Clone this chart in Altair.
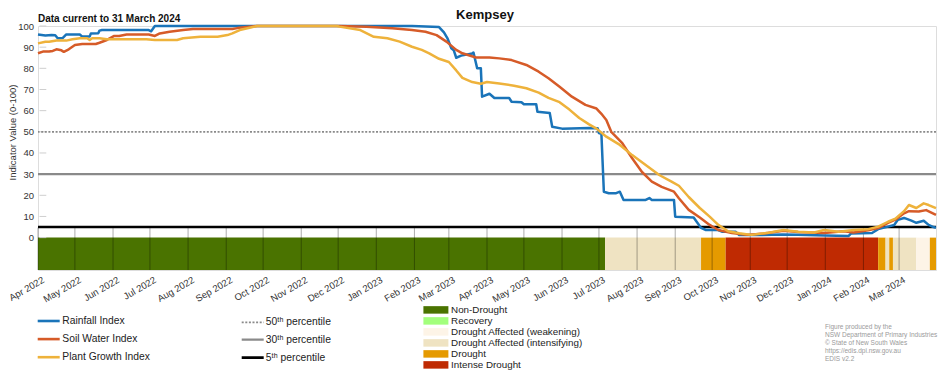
import altair as alt
import pandas as pd

FONT = "Liberation Sans"

# ---------------- index series ----------------
rain_dates = ["2022-04-01","2022-04-07","2022-04-12","2022-04-15","2022-04-17","2022-04-21","2022-04-24","2022-05-05",
              "2022-05-07","2022-05-13","2022-05-14","2022-05-20","2022-05-21","2022-05-23","2022-06-30","2022-07-02",
              "2022-07-05","2023-01-30","2023-02-21","2023-02-25","2023-02-28","2023-03-03","2023-03-05","2023-03-07",
              "2023-03-11","2023-03-20","2023-03-21","2023-03-24","2023-03-27","2023-03-28","2023-04-03","2023-04-07",
              "2023-04-19","2023-04-21","2023-04-29","2023-05-01","2023-05-11","2023-05-12","2023-05-22","2023-05-24",
              "2023-06-01","2023-06-23","2023-06-30","2023-07-01","2023-07-03","2023-07-05","2023-07-09","2023-07-15",
              "2023-07-18","2023-07-21","2023-08-08","2023-08-11","2023-08-13","2023-08-31","2023-09-01","2023-09-16",
              "2023-09-18","2023-09-22","2023-09-26","2023-10-06","2023-10-09","2023-10-20","2023-10-23","2023-11-08",
              "2023-11-27","2023-12-10","2024-01-01","2024-01-20","2024-01-22","2024-02-08","2024-02-13","2024-02-21",
              "2024-02-26","2024-02-29","2024-03-05","2024-03-11","2024-03-15","2024-03-21","2024-03-25","2024-03-29",
              "2024-03-31"]
rain_vals = [96, 95.5, 95.7, 95.6, 94.2, 94.3, 96, 96,
             95, 95, 96.5, 96.6, 97.8, 98.1, 98.1, 97.5,
             100, 100, 99.5, 97, 94, 89.5, 88.5, 85,
             86, 87, 87.5, 80, 80, 66.6, 68, 66,
             66, 64.2, 64, 63, 63, 59.5, 58.9, 52.4,
             51.5, 51.8, 51.7, 49.4, 49, 21.7, 21, 21,
             21.7, 17.8, 17.8, 18.7, 17.8, 17.8, 9.9, 9.5,
             7.9, 4.6, 3.6, 3.6, 2.8, 2.8, 1.2, 1.2,
             1.5, 1.3, 1.0, 0.8, 2.0, 2.2, 4, 5.2,
             6, 8.4, 9.3, 8, 7, 8, 6, 5,
             4.6]

soil_dates = ["2022-04-01","2022-04-05","2022-04-10","2022-04-13","2022-04-16","2022-04-20","2022-04-22","2022-04-26",
              "2022-05-01","2022-05-07","2022-05-18","2022-05-21","2022-05-27","2022-06-02","2022-06-06","2022-06-12",
              "2022-06-30","2022-07-05","2022-07-09","2022-07-17","2022-07-28","2022-08-05","2022-09-06","2022-09-10",
              "2022-09-20","2022-09-26","2022-12-02","2022-12-24","2023-01-14","2023-01-30","2023-02-10","2023-02-19",
              "2023-02-27","2023-03-07","2023-03-12","2023-03-23","2023-04-03","2023-04-11","2023-04-21","2023-05-03",
              "2023-05-13","2023-05-21","2023-05-30","2023-06-09","2023-06-20","2023-06-29","2023-07-03","2023-07-07",
              "2023-07-11","2023-07-20","2023-07-28","2023-08-05","2023-08-13","2023-08-21","2023-08-31","2023-09-04",
              "2023-09-12","2023-09-21","2023-09-29","2023-10-06","2023-10-17","2023-10-29","2023-11-12","2023-11-28",
              "2023-12-10","2023-12-31","2024-01-16","2024-01-24","2024-02-05","2024-02-13","2024-02-21","2024-02-27",
              "2024-03-05","2024-03-09","2024-03-17","2024-03-23","2024-03-31"]
soil_vals = [87.1, 87.9, 87.9, 88.2, 89, 88.5, 87.8, 89,
             91, 91.5, 91.5, 92.1, 93.4, 95.3, 95.3, 96,
             96, 95.3, 96.5, 97.3, 98.1, 98.6, 98.6, 99,
             99.7, 100, 100, 99.7, 98.9, 98.1, 97.3, 95.7,
             92.6, 88.7, 87.1, 85.1, 85.1, 84.7, 83.9, 81.6,
             78.4, 75.3, 71.3, 66.6, 62.7, 61, 58.5, 55.6,
             50, 44.6, 37.5, 31, 26.5, 24, 21.7, 18.6,
             13.1, 9.5, 6, 3.6, 2.2, 1.3, 2.0, 3.2,
             2.6, 2.2, 3.0, 2.4, 3.5, 4.5, 7, 8.5,
             11.5, 12.5, 12.3, 13, 10.7]

plant_dates = ["2022-04-01","2022-04-07","2022-04-10","2022-04-16","2022-04-24","2022-04-29","2022-05-05","2022-05-11",
               "2022-05-13","2022-05-15","2022-05-21","2022-05-27","2022-06-28","2022-07-05","2022-07-23","2022-07-28",
               "2022-08-11","2022-08-25","2022-09-02","2022-09-06","2022-09-12","2022-09-20","2022-09-26","2022-11-30",
               "2022-12-02","2022-12-19","2022-12-30","2023-01-10","2023-01-20","2023-01-30","2023-02-07","2023-02-13",
               "2023-02-21","2023-03-01","2023-03-07","2023-03-12","2023-03-20","2023-03-27","2023-04-01","2023-04-11",
               "2023-04-23","2023-05-03","2023-05-13","2023-05-21","2023-05-30","2023-06-07","2023-06-15","2023-06-23",
               "2023-06-29","2023-07-07","2023-07-18","2023-07-28","2023-08-08","2023-08-19","2023-08-29","2023-09-04",
               "2023-09-12","2023-09-21","2023-09-29","2023-10-06","2023-10-14","2023-10-23","2023-11-02","2023-11-16",
               "2023-11-28","2023-12-10","2023-12-23","2023-12-31","2024-01-12","2024-01-24","2024-02-05","2024-02-13",
               "2024-02-21","2024-02-27","2024-03-05","2024-03-09","2024-03-15","2024-03-21","2024-03-25","2024-03-31"]
plant_vals = [91.8, 92.6, 92.6, 93.1, 93.1, 93.7, 94.2, 94.2,
              93.4, 94.2, 94.2, 93.7, 93.7, 93.4, 93.4, 94.2,
              94.9, 94.9, 95.7, 96.5, 98.1, 99.2, 100, 100,
              99.7, 98.1, 94.9, 94.2, 92.6, 90.2, 88.7, 87.1,
              84.5, 83, 79, 75.5, 73.5, 72.7, 73.5, 72.8,
              71.8, 70.6, 68.5, 66, 64, 60.5, 56.5, 53.5,
              51.5, 47.7, 43.8, 39, 34.3, 29.6, 26.5, 24.5,
              19.2, 14, 9.9, 6, 3, 2.1, 1.3, 2.3,
              3.6, 2.8, 2.4, 3.6, 2.8, 3.6, 4, 5.2,
              7.5, 9, 12.5, 15.4, 14, 16.2, 15.4, 13.9]

series_names = ["Rainfall Index", "Soil Water Index", "Plant Growth Index"]
series_colors = ["#1a74b9", "#d65b28", "#eeb23b"]

# ---------------- drought category strip ----------------
cat_names = ["Non-Drought", "Recovery", "Drought Affected (weakening)",
             "Drought Affected (intensifying)", "Drought", "Intense Drought"]
cat_colors = ["#4a7300", "#a3ff7c", "#fdf4e7", "#efe3c2", "#e59a00", "#bf2a02"]

strip_start = ["2022-04-01", "2023-07-06", "2023-09-22", "2023-10-12", "2024-02-13",
               "2024-02-19", "2024-02-22", "2024-02-25", "2024-03-15", "2024-03-26"]
strip_state = ["Non-Drought", "Drought Affected (intensifying)", "Drought", "Intense Drought", "Drought",
               "Drought Affected (intensifying)", "Drought", "Drought Affected (intensifying)",
               "Drought Affected (weakening)", "Drought"]
period_end = "2024-03-31"

# ---------------- percentile reference lines ----------------
pct_names = ["50\u1d57\u02b0 percentile", "30\u1d57\u02b0 percentile", "5\u1d57\u02b0 percentile"]
pct_values = [50, 30, 5]
pct_colors = ["#8a8a8a", "#8a8a8a", "#000000"]
pct_dashes = [[2, 1.6], [1, 0], [1, 0]]
pct_widths = [1.8, 2.3, 2.6]

y_ticks = [0, 10, 20, 30, 40, 50, 60, 70, 80, 90, 100]

credit_lines = ["Figure produced by the", "NSW Department of Primary Industries",
                "\u00a9 State of New South Wales", "https://edis.dpi.nsw.gov.au", "EDIS v2.2"]

# ---------------- tables ----------------
lines_df = pd.concat([
    pd.DataFrame({"date": pd.to_datetime(d), "value": v, "series": n})
    for n, d, v in zip(series_names, [rain_dates, soil_dates, plant_dates], [rain_vals, soil_vals, plant_vals])
], ignore_index=True)

strip_df = pd.DataFrame({
    "start": pd.to_datetime(strip_start),
    "end": pd.to_datetime(strip_start[1:] + [period_end]),
    "state": strip_state,
})
pct_df = pd.DataFrame({"name": pct_names, "value": pct_values})
month_df = pd.DataFrame({"month": pd.date_range(strip_start[0], period_end, freq="MS")})
ytick_df = pd.DataFrame({"v": y_ticks})

# ---------------- scales / axes ----------------
STRIP_LOW = -15.3
X_SCALE = alt.Scale(domain=[alt.DateTime(year=2022, month=4, date=1),
                            alt.DateTime(year=2024, month=3, date=31)], nice=False)
Y_SCALE = alt.Scale(domain=[STRIP_LOW, 100], nice=False, zero=False)

x_axis = alt.Axis(title=None, format="%b %Y", tickCount={"interval": "month", "step": 1},
                  labelAngle=-30, labelAlign="right", labelBaseline="top",
                  labelPadding=4.5, labelOffset=2.5, ticks=False, domain=False, grid=False,
                  labelFontSize=9.5, labelColor="#333333", labelOverlap=False, labelFlush=False,
                  labelFont=FONT)
y_axis = alt.Axis(values=y_ticks, title="Indicator Value (0-100)", ticks=False, domain=False, grid=False,
                  labelPadding=4.5, labelFontSize=9.5, labelColor="#333333", labelFont=FONT,
                  titleFontSize=9.5, titleFontWeight="normal", titleColor="#333333", titleFont=FONT,
                  titleX=-20.5, titleY=106)


def xf(field):
    return alt.X(field, type="temporal", scale=X_SCALE, axis=x_axis)


def xd(dt):
    return alt.X(datum=dt, type="temporal", scale=X_SCALE, axis=x_axis)


def yf(field):
    return alt.Y(field, type="quantitative", scale=Y_SCALE, axis=y_axis)


def yd(v):
    return alt.Y(datum=v, type="quantitative", scale=Y_SCALE, axis=y_axis)


line_legend = alt.Legend(title=None, orient="none", legendX=3.7, legendY=288, padding=0,
                         symbolType="M-2,0L2,0", symbolSize=121, symbolStrokeWidth=2.6,
                         labelFontSize=10.3, labelColor="#222222", labelFont=FONT,
                         labelOffset=6.6, rowPadding=5.1)
pct_legend = alt.Legend(title=None, orient="none", legendX=207.7, legendY=289.8, padding=0,
                        symbolType="M-2,0L2,0", symbolSize=121,
                        labelFontSize=10.3, labelColor="#222222", labelFont=FONT,
                        labelOffset=6, rowPadding=4.9)
cat_legend = alt.Legend(title=None, orient="none", legendX=393, legendY=279, padding=0,
                        symbolType="M-3,-0.9L3,-0.9L3,0.9L-3,0.9Z", symbolSize=69.4, symbolStrokeWidth=0,
                        labelFontSize=9.8, labelColor="#222222", labelFont=FONT,
                        labelOffset=10.3, rowPadding=0, labelLimit=300)

# ---------------- layers ----------------
strip = alt.Chart(strip_df).mark_rect().encode(
    x=xf("start"), x2="end",
    y=yd(STRIP_LOW), y2=alt.Y2(datum=0),
    fill=alt.Fill("state:N", scale=alt.Scale(domain=cat_names, range=cat_colors), legend=cat_legend),
)

month_ticks = alt.Chart(month_df).mark_rule(color="#000000", opacity=0.33, strokeWidth=1).encode(
    x=xf("month"), y=yd(STRIP_LOW), y2=alt.Y2(datum=4.7),
)

y_tick_marks = alt.Chart(ytick_df).mark_rule(color="#cfcfcf", strokeWidth=1).encode(
    x=xd(alt.DateTime(year=2022, month=4, date=2, hours=6)),
    x2=alt.X2(datum=alt.DateTime(year=2022, month=4, date=7, hours=18)),
    y=yf("v"),
)

pct_rules = alt.Chart(pct_df).mark_rule().encode(
    y=yf("value"),
    stroke=alt.Stroke("name:N", scale=alt.Scale(domain=pct_names, range=pct_colors), legend=pct_legend),
    strokeDash=alt.StrokeDash("name:N", scale=alt.Scale(domain=pct_names, range=pct_dashes), legend=pct_legend),
    strokeWidth=alt.StrokeWidth("name:N", scale=alt.Scale(type="ordinal", domain=pct_names, range=pct_widths),
                                legend=pct_legend),
)

line_layers = [
    alt.Chart(lines_df).transform_filter(alt.datum.series == name)
    .mark_line(strokeWidth=2.5, strokeJoin="round")
    .encode(x=xf("date"), y=yf("value"),
            color=alt.Color("series:N", scale=alt.Scale(domain=series_names, range=series_colors),
                            legend=line_legend))
    for name in series_names
]

title_txt = alt.Chart(pd.DataFrame({"t": ["Kempsey"]})).mark_text(
    font=FONT, fontSize=13, fontWeight="bold", align="center", baseline="alphabetic", color="#111111"
).encode(text="t:N", x=alt.value(447), y=alt.value(-7.4))

current_txt = alt.Chart(pd.DataFrame({"t": ["Data current to 31 March 2024"]})).mark_text(
    font=FONT, fontSize=10, fontWeight="bold", align="left", baseline="alphabetic", color="#111111"
).encode(text="t:N", x=alt.value(0), y=alt.value(-4))

credit_txt = alt.Chart(pd.DataFrame({"t": ["\n".join(credit_lines)]})).mark_text(
    font=FONT, fontSize=6.5, align="left", baseline="alphabetic", color="#9a9a9a",
    lineBreak="\n", lineHeight=8.2
).encode(text="t:N", x=alt.value(787), y=alt.value(302.5))

chart = alt.layer(
    strip, month_ticks, y_tick_marks, pct_rules, *line_layers, title_txt, current_txt, credit_txt
).properties(
    width=898, height=244,
    padding={"left": 30, "top": 18, "right": 8, "bottom": 100},
    autosize=alt.AutoSizeParams(type="none"),
).configure_view(stroke=None).configure(font=FONT)

chart.save("out.html", embed_options={"renderer": "svg", "actions": False})
